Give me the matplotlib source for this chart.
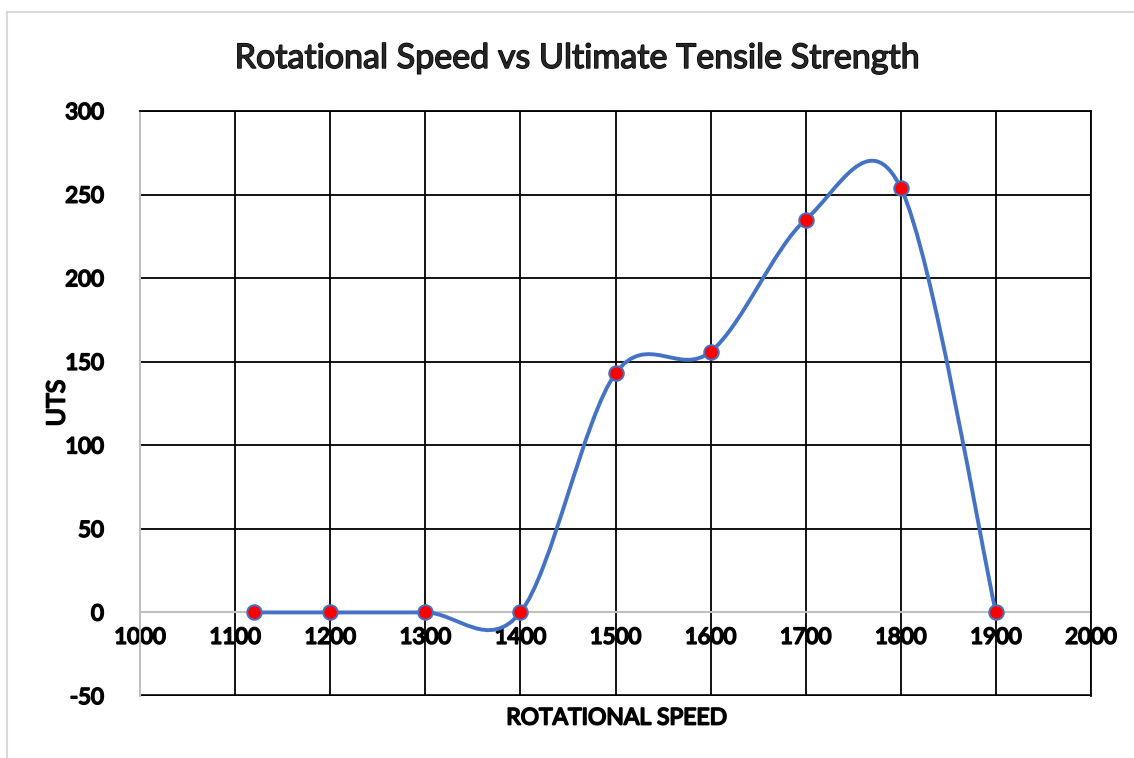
import numpy as np
import matplotlib
matplotlib.use("Agg")
import matplotlib.pyplot as plt
from matplotlib.path import Path
from matplotlib.patches import PathPatch, Rectangle
import matplotlib.patheffects as pe

# data
speed = [1120, 1200, 1300, 1400, 1500, 1600, 1700, 1800, 1900]
uts = [0, 0, 0, 0, 143, 156, 235, 254, 0]
x_ticks = [1000, 1100, 1200, 1300, 1400, 1500, 1600, 1700, 1800, 1900, 2000]
y_ticks = [-50, 0, 50, 100, 150, 200, 250, 300]

plt.rcParams['font.family'] = ['Lato', 'DejaVu Sans']
plt.rcParams['axes.unicode_minus'] = False

fig = plt.figure(figsize=(11.34, 7.58), dpi=100)
W, H = 1134, 758
ax = fig.add_axes([140 / W, (H - 696) / H, (1091 - 140) / W, (696 - 111) / H])

# chart border
fig.patches.append(Rectangle((7 / W, -0.1), 1.2, 1.1 - 12 / H,
                             transform=fig.transFigure, fill=False,
                             edgecolor='#d9d9d9', linewidth=1.5))

# smoothed line (Catmull-Rom style bezier, like Excel)
pts = np.column_stack([speed, uts]).astype(float)
n = len(pts)
verts = [pts[0]]
codes = [Path.MOVETO]
for i in range(n - 1):
    p0 = pts[max(i - 1, 0)]
    p1 = pts[i]
    p2 = pts[i + 1]
    p3 = pts[min(i + 2, n - 1)]
    c1 = p1 + (p2 - p0) / 6.0
    c2 = p2 - (p3 - p1) / 6.0
    verts += [c1, c2, p2]
    codes += [Path.CURVE4] * 3
curve = PathPatch(Path(verts, codes), facecolor='none', edgecolor='#4472c4',
                  linewidth=2.8, zorder=3, capstyle='round')
ax.add_patch(curve)
ax.plot(speed, uts, linestyle='none', marker='o', markersize=10.5,
        markerfacecolor='#ff0000', markeredgecolor='#4472c4',
        markeredgewidth=1.4, zorder=4)

ax.set_xlim(1000, 2000)
ax.set_ylim(-50, 300)
ax.set_xticks(x_ticks)
ax.set_yticks(y_ticks)
ax.grid(True, color='black', linewidth=1.3, zorder=0)
ax.set_axisbelow(True)

for s in ['top', 'right']:
    ax.spines[s].set_color('black')
    ax.spines[s].set_linewidth(1.3)
ax.spines['left'].set_color('#bfbfbf')
ax.spines['left'].set_linewidth(1.5)
ax.spines['bottom'].set_position(('data', 0))
ax.spines['bottom'].set_color('#bfbfbf')
ax.spines['bottom'].set_linewidth(1.5)
ax.spines['bottom'].set_zorder(1)
ax.axhline(-50, color='black', linewidth=2.6, zorder=1)

# no bold Lato installed, so thicken glyphs with a stroke
bold = [pe.withStroke(linewidth=1.3, foreground='black')]

ax.tick_params(axis='both', length=0, labelsize=16)
ax.tick_params(axis='x', pad=11)
ax.tick_params(axis='y', pad=26)
for lbl in ax.get_xticklabels() + ax.get_yticklabels():
    lbl.set_path_effects(bold)

fig.text(577 / W, 1 - 58 / H, 'Rotational Speed vs Ultimate Tensile Strength',
         ha='center', va='center', fontsize=24.5, color='#262626',
         path_effects=[pe.withStroke(linewidth=1.0, foreground='black')])
fig.text(617 / W, 1 - 718 / H, 'ROTATIONAL SPEED', ha='center', va='center',
         fontsize=16.5, color='black', path_effects=bold)
fig.text(57 / W, 1 - 403 / H, 'UTS', ha='center', va='center', rotation=90,
         fontsize=18, color='black', path_effects=bold)

fig.savefig('out.png', dpi=100, facecolor='white')
